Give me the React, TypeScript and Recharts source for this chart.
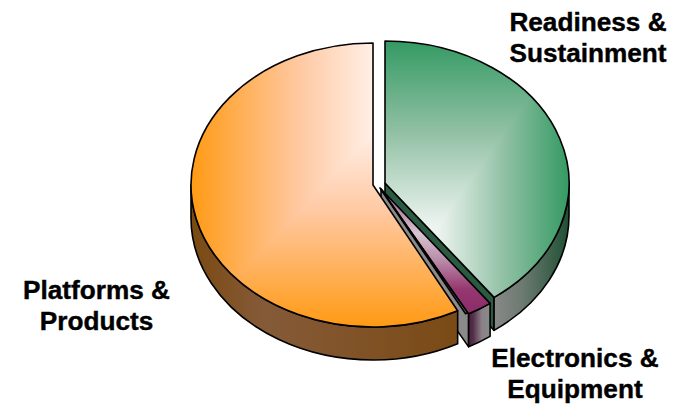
import { PieChart, Pie } from "recharts";

const categories = [
  "Readiness & Sustainment",
  "Electronics & Equipment",
  "Other",
  "Platforms & Products",
];
const shares = [39.9, 2.2, 0.2, 57.7];

const chartData = categories.map((name, i) => ({ name, value: shares[i] }));

const WIDTH = 686;
const HEIGHT = 407;
const RX = 184;
const RY = 142;
const DEPTH = 33;
const EDGE = 1.6;

type Stop = [number, string];

interface SliceStyle {
  dx: number;
  dy: number;
  rx: number;
  focus?: [number, number];
  corner?: [number, number];
  topStops: Stop[];
  topAxis?: [number, number];
  wallStops?: Stop[];
  wallRange?: [number, number];
  face?: string;
}

// per-slice explosion offsets and fills, offsets are from the pie centre
const sliceStyles: SliceStyle[] = [
  {
    dx: 7,
    dy: -2,
    rx: 184,
    focus: [0.283, 0.31],
    corner: [1, -1],
    topStops: [[0, "#eef5f1"], [0.5, "#93c1a6"], [1, "#349a63"]],
    wallStops: [[0, "#8a8a8a"], [0.4, "#6c7a71"], [1, "#1f5033"]],
    wallRange: [492, 569],
    face: "#2a5a40",
  },
  {
    dx: 3,
    dy: 4,
    rx: 184,
    topStops: [[0, "#9a5e88"], [0.36, "#d8c4d0"], [0.6, "#b88aa8"], [0.85, "#96386f"], [1, "#8e2f6b"]],
    topAxis: [193, 306],
    wallStops: [[0, "#4a1e3c"], [0.25, "#54304a"], [0.65, "#8a8086"], [1, "#8a8a8a"]],
    wallRange: [468, 489],
    face: "#8a8a8a",
  },
  {
    // sliver between the two big wedges, no wall of its own
    dx: 2,
    dy: 3,
    rx: 184,
    topStops: [[0, "#2a4a9a"], [0.35, "#6a78a0"], [1, "#8a8a90"]],
    topAxis: [190, 312],
  },
  {
    dx: -5,
    dy: 0,
    rx: 182,
    focus: [0, -0.366],
    corner: [-1, 1],
    topStops: [[0, "#ffefe6"], [0.4, "#ffc9a3"], [1, "#ff9a14"]],
    wallStops: [[0, "#7a4a12"], [0.27, "#855a38"], [1, "#7a4a14"]],
    wallRange: [191, 462],
  },
];

const labelLines = [
  ["Readiness &", "Sustainment"],
  ["Electronics &", "Equipment"],
  [],
  ["Platforms &", "Products"],
];
const labelAnchors = [
  [588, 31],
  [575, 367],
  [0, 0],
  [96.5, 299],
];

const rad = (a: number) => (a * Math.PI) / 180;

const stopsOf = (stops: Stop[]) =>
  stops.map(([o, c]) => <stop key={o} offset={o} stopColor={c} />);

// Elliptical extruded wedge, drawn from the angles Pie computes
const Slice3D = (props: any) => {
  const { cx, cy, startAngle, endAngle, index } = props;
  const st = sliceStyles[index];
  const x0 = cx + st.dx;
  const y0 = cy + st.dy;
  const rx = st.rx;
  const pt = (a: number): [number, number] => [
    x0 + rx * Math.cos(rad(a)),
    y0 - RY * Math.sin(rad(a)),
  ];
  const [sx, sy] = pt(startAngle);
  const [ex, ey] = pt(endAngle);
  const large = startAngle - endAngle > 180 ? 1 : 0;
  const top = `M${x0},${y0}L${sx},${sy}A${rx},${RY} 0 ${large} 1 ${ex},${ey}Z`;

  // outer wall only shows on the lower half of the ellipse
  const a1 = Math.min(startAngle, 0);
  const a2 = Math.max(endAngle, -180);
  const [w1x, w1y] = pt(a1);
  const [w2x, w2y] = pt(a2);
  const wall = `M${w1x},${w1y}A${rx},${RY} 0 0 1 ${w2x},${w2y}L${w2x},${w2y + DEPTH}A${rx},${RY} 0 0 0 ${w1x},${w1y + DEPTH}Z`;

  // cut face along the trailing edge, facing the viewer
  const face = `M${x0},${y0}L${ex},${ey}L${ex},${ey + DEPTH}L${x0},${y0 + DEPTH}Z`;

  const id = `slice-${index}`;
  const unit = (u: number, v: number) => `${x0 + u * rx},${y0 + v * RY}`;

  return (
    <g>
      <defs>
        <clipPath id={`${id}-clip`}>
          <path d={top} />
        </clipPath>
        {st.wallStops && st.wallRange && (
          <linearGradient
            id={`${id}-wall`}
            gradientUnits="userSpaceOnUse"
            x1={st.wallRange[0]}
            x2={st.wallRange[1]}
            y1={0}
            y2={0}
          >
            {stopsOf(st.wallStops)}
          </linearGradient>
        )}
        {st.focus && st.corner ? (
          <>
            <linearGradient
              id={`${id}-h`}
              gradientUnits="userSpaceOnUse"
              x1={x0 + st.focus[0] * rx}
              x2={x0 + st.corner[0] * rx}
              y1={0}
              y2={0}
            >
              {stopsOf(st.topStops)}
            </linearGradient>
            <linearGradient
              id={`${id}-v`}
              gradientUnits="userSpaceOnUse"
              x1={0}
              x2={0}
              y1={y0 + st.focus[1] * RY}
              y2={y0 + st.corner[1] * RY}
            >
              {stopsOf(st.topStops)}
            </linearGradient>
          </>
        ) : (
          <linearGradient
            id={`${id}-v`}
            gradientUnits="userSpaceOnUse"
            x1={0}
            x2={0}
            y1={st.topAxis![0]}
            y2={st.topAxis![1]}
          >
            {stopsOf(st.topStops)}
          </linearGradient>
        )}
      </defs>
      {st.face && <path d={face} fill={st.face} stroke="#000" strokeWidth={EDGE} strokeLinejoin="round" />}
      {st.wallStops && (
        <path d={wall} fill={`url(#${id}-wall)`} stroke="#000" strokeWidth={EDGE} strokeLinejoin="round" />
      )}
      <g clipPath={`url(#${id}-clip)`}>
        <rect x={0} y={0} width={WIDTH} height={HEIGHT} fill={`url(#${id}-v)`} />
        {st.focus && st.corner && (
          <polygon
            fill={`url(#${id}-h)`}
            points={[
              unit(st.focus[0], st.focus[1]),
              unit(st.corner[0], st.corner[1]),
              unit(st.corner[0] * 1.1, st.corner[1]),
              unit(st.corner[0] * 1.1, -2 * st.corner[1]),
              unit(st.focus[0], -2 * st.corner[1]),
            ].join(" ")}
          />
        )}
      </g>
      <path d={top} fill="none" stroke="#000" strokeWidth={EDGE} strokeLinejoin="round" />
    </g>
  );
};

const SliceLabel = ({ index }: any) => {
  const lines = labelLines[index];
  const [x, y] = labelAnchors[index];
  return (
    <text
      x={x}
      y={y}
      textAnchor="middle"
      fontFamily="'Liberation Sans', Arial, sans-serif"
      fontWeight="bold"
      fontSize={26.2}
      fill="#000"
      stroke="#000"
      strokeWidth={0.4}
    >
      {lines.map((line, i) => (
        <tspan key={line} x={x} dy={i === 0 ? 0 : 31}>
          {line}
        </tspan>
      ))}
    </text>
  );
};

export default function App() {
  return (
    <div style={{ position: "absolute", left: 0, top: 0, width: WIDTH, height: HEIGHT, background: "#fff" }}>
      <PieChart width={WIDTH} height={HEIGHT} margin={{ top: 0, right: 0, bottom: 0, left: 0 }}>
        <Pie
          data={chartData}
          dataKey="value"
          nameKey="name"
          cx={378}
          cy={185}
          outerRadius={RX}
          startAngle={90}
          endAngle={-270}
          paddingAngle={0}
          stroke="none"
          isAnimationActive={false}
          shape={Slice3D}
          label={SliceLabel}
          labelLine={false}
        />
      </PieChart>
    </div>
  );
}
